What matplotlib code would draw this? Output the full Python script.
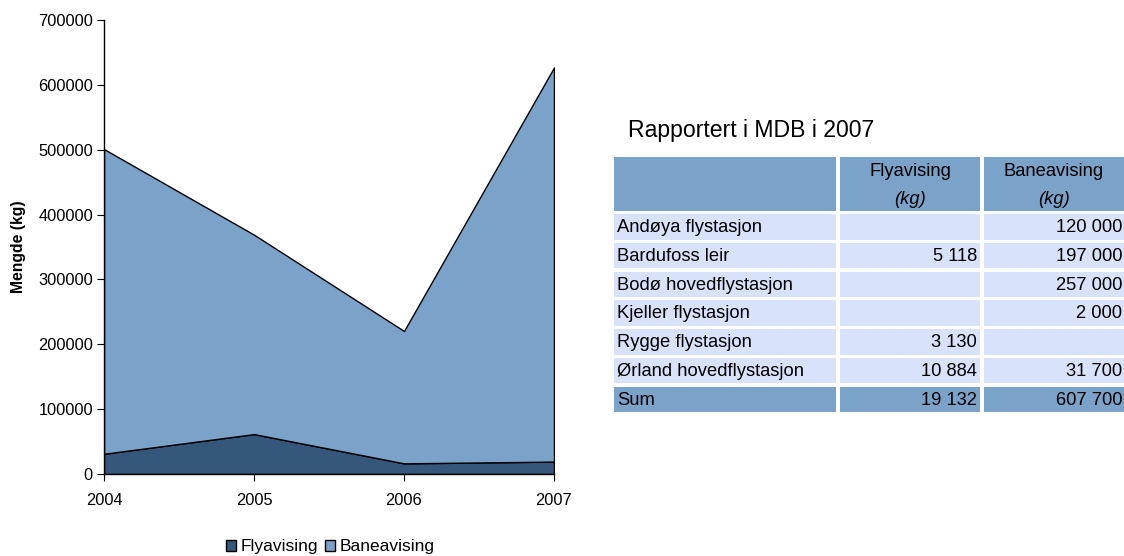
import matplotlib
matplotlib.use("Agg")
import matplotlib.pyplot as plt
from matplotlib.patches import Rectangle, Patch

plt.rcParams['font.family'] = ['Liberation Sans', 'DejaVu Sans']

# ---- data ----
years = [2004, 2005, 2006, 2007]
flyavising = [31200, 61500, 16400, 19132]
baneavising = [469800, 307500, 204100, 607700]
series_labels = ["Flyavising", "Baneavising"]
yticks = [0, 100000, 200000, 300000, 400000, 500000, 600000, 700000]

table_title = "Rapportert i MDB i 2007"
table_headers = ["Flyavising", "Baneavising"]
table_units = "(kg)"
stations = ["Andøya flystasjon", "Bardufoss leir", "Bodø hovedflystasjon",
            "Kjeller flystasjon", "Rygge flystasjon", "Ørland hovedflystasjon"]
station_fly = [None, 5118, None, None, 3130, 10884]
station_bane = [120000, 197000, 257000, 2000, None, 31700]
sum_label = "Sum"

# ---- style ----
c_fly = "#34577B"
c_bane = "#7BA2C8"
c_head = "#7BA2C8"
c_row = "#D9E2FB"

W, H = 1124, 556
fig = plt.figure(figsize=(W / 100, H / 100), dpi=100)

ax = fig.add_axes([104 / W, 1 - 474 / H, (554 - 104) / W, (474 - 20) / H])
ax.stackplot(years, flyavising, baneavising, colors=[c_fly, c_bane],
             edgecolor="black", linewidth=1.0, labels=series_labels)
ax.set_xlim(2004, 2007)
ax.set_ylim(0, 700000)
ax.set_xticks(years)
ax.set_xticklabels([str(y) for y in years], fontsize=11.8)
ax.set_yticks(yticks)
ax.set_yticklabels([str(v) for v in yticks], fontsize=11.8)
ax.tick_params(axis='x', direction='out', length=5, pad=9)
ax.tick_params(axis='y', direction='out', length=5, pad=3)
for s in ["top", "right"]:
    ax.spines[s].set_visible(False)
ax.spines["left"].set_linewidth(1.0)
ax.spines["bottom"].set_linewidth(1.0)
ax.set_ylabel("Mengde (kg)", fontsize=11.3, fontweight="bold", labelpad=9)

handles = [Patch(facecolor=c_fly, edgecolor="black", linewidth=1.0),
           Patch(facecolor=c_bane, edgecolor="black", linewidth=1.0)]
fig.legend(handles, series_labels, loc="center", bbox_to_anchor=(330 / W, 1 - 547 / H),
           ncol=2, frameon=False, fontsize=12.5, handlelength=0.6, handleheight=0.6,
           handletextpad=0.25, columnspacing=0.4, borderpad=0.2)

# ---- table ----
def px(x):
    return x / W

def py(y):
    return 1 - y / H

def fmt(v):
    if v is None:
        return ""
    return f"{v:,}".replace(",", " ")

fig.text(px(628), py(131), table_title, fontsize=16.6, ha="left", va="center")

cols = [(614, 836), (840, 980), (984, 1124)]
tfs = 13.2

def cell(x0, x1, y0, y1, color):
    fig.patches.append(Rectangle((px(x0), py(y1)), px(x1) - px(x0), py(y0) - py(y1),
                                 transform=fig.transFigure, facecolor=color,
                                 edgecolor="none"))

# header
for (x0, x1) in cols:
    cell(x0, x1, 157, 211, c_head)
for (x0, x1), h in zip(cols[1:], table_headers):
    xc = (x0 + x1) / 2
    fig.text(px(xc), py(171), h, fontsize=tfs, ha="center", va="center")
    fig.text(px(xc), py(200), table_units, fontsize=tfs, ha="center", va="center",
             style="italic")

row_top = 214
pitch = 28.75
rh = 25.5
rows = list(zip(stations, station_fly, station_bane))
rows.append((sum_label, sum(v for v in station_fly if v), sum(v for v in station_bane if v)))
for i, (name, f, b) in enumerate(rows):
    y0 = row_top + i * pitch
    y1 = y0 + rh
    color = c_head if name == sum_label else c_row
    for (x0, x1) in cols:
        cell(x0, x1, y0, y1, color)
    yc = (y0 + y1) / 2 + 1
    fig.text(px(617), py(yc), name, fontsize=tfs, ha="left", va="center")
    fig.text(px(977), py(yc), fmt(f), fontsize=tfs, ha="right", va="center")
    fig.text(px(1122), py(yc), fmt(b), fontsize=tfs, ha="right", va="center")

fig.savefig("out.png", dpi=100)
